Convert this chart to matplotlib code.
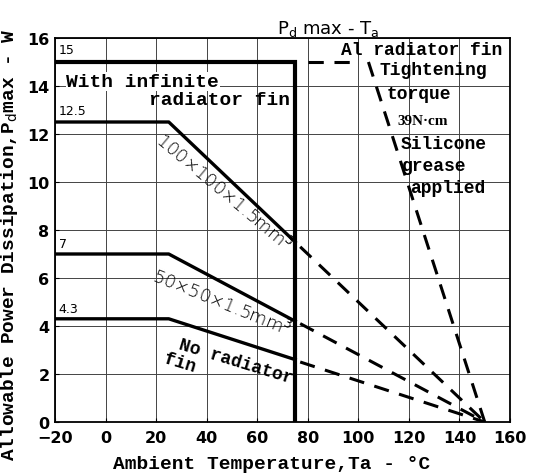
import matplotlib
matplotlib.use("Agg")
import matplotlib.pyplot as plt

# solid derating curves (ambient temperature in C, power in W)
inf_temp = [-20, 75, 75]
inf_power = [15, 15, 0]
curve_temp = [-20, 25, 75]
fin100_power = [12.5, 12.5, 7.5]
fin50_power = [7, 7, 4.2]
nofin_power = [4.3, 4.3, 2.6]

# dashed extrapolations with Al radiator fin
al_flat_temp = [80, 100]
al_flat_power = [15, 15]
al_slope_temp = [104, 150]
al_slope_power = [15, 0]
ext_temp = [77, 150]
fin100_ext = [7.3, 0]
fin50_ext = [4.1, 0]
nofin_ext = [2.5, 0]

xticks = [-20, 0, 20, 40, 60, 80, 100, 120, 140, 160]
yticks = [0, 2, 4, 6, 8, 10, 12, 14, 16]

MONO = "Liberation Mono"

fig = plt.figure(figsize=(5.41, 4.77), dpi=100)
ax = fig.add_axes([55 / 541, 54 / 477, 455 / 541, 384 / 477])
ax.set_xlim(-20, 160)
ax.set_ylim(0, 16)
ax.set_xticks(xticks)
ax.set_yticks(yticks)
ax.grid(True, color="#444444", linewidth=0.7)
ax.tick_params(axis="x", direction="in", length=3, width=0.8, pad=6)
ax.tick_params(axis="y", direction="in", length=3, width=0.8, pad=4)
for lab in ax.get_xticklabels() + ax.get_yticklabels():
    lab.set_fontweight("bold")
    lab.set_fontsize(11.5)
    lab.set_family("DejaVu Sans")
for s in ax.spines.values():
    s.set_linewidth(1.3)

ax.plot(inf_temp, inf_power, color="black", lw=3, solid_joinstyle="miter", zorder=3)
for p in (fin100_power, fin50_power, nofin_power):
    ax.plot(curve_temp, p, color="black", lw=2.4, zorder=3)

dash = dict(color="black", lw=2.2, dashes=(5, 3.5), zorder=3)
ax.plot(al_flat_temp, al_flat_power, **dash)
ax.plot(al_slope_temp, al_slope_power, **dash)
for p in (fin100_ext, fin50_ext, nofin_ext):
    ax.plot(ext_temp, p, **dash)

# value labels on the left
for v, y in [("15", 15.25), ("12.5", 12.7), ("7", 7.15), ("4.3", 4.45)]:
    ax.text(-18.5, y, v, fontsize=9, va="bottom", ha="left")

bbox = dict(facecolor="white", edgecolor="none", pad=0.5)
ax.text(-15.5, 14.0, "With infinite", family=MONO, fontsize=14, va="baseline",
        fontweight="bold", bbox=bbox, zorder=4)
ax.text(73, 13.25, "radiator fin", family=MONO, fontsize=14, va="baseline",
        ha="right", fontweight="bold", zorder=4)

ax.text(46.5, 9.6, "100×100×1.5mm$^3$", fontsize=13, rotation=-40,
        ha="center", va="center", fontweight="light", zorder=4)
ax.text(46, 5.0, "50×50×1.5mm$^3$", fontsize=13, rotation=-22,
        ha="center", va="center", fontweight="light", zorder=4)
ax.text(51.5, 2.55, "No radiator", family=MONO, fontsize=13, rotation=-17,
        ha="center", va="center", fontweight="bold", zorder=4)
ax.text(29.5, 2.5, "fin", family=MONO, fontsize=13, rotation=-17,
        ha="center", va="center", fontweight="bold", zorder=4)

# Al radiator fin annotation
ax.text(157, 15.35, "Al radiator fin", family=MONO, fontsize=13, ha="right",
        va="baseline", fontweight="bold", zorder=4)
for x, y, s, fam, fs in [(108.5, 14.5, "Tightening", MONO, 13),
                         (111, 13.5, "torque", MONO, 13),
                         (115.5, 12.4, "39N·cm", "Liberation Serif", 11),
                         (116.7, 11.4, "Silicone", MONO, 13),
                         (117.3, 10.5, "grease", MONO, 13),
                         (120.5, 9.6, "applied", MONO, 13)]:
    ax.text(x, y, s, family=fam, fontsize=fs, va="baseline", ha="left",
            fontweight="bold", zorder=4)

ax.set_xlabel("Ambient Temperature,Ta - °C", family=MONO, fontsize=14,
              fontweight="bold", labelpad=1)
ax.xaxis.set_label_coords(0.477, -0.085)
ax.set_ylabel("Allowable Power Dissipation,P$_\\mathrm{d}$max - W", family=MONO,
              fontsize=14, fontweight="bold")
ax.yaxis.set_label_coords(-0.078, 0.465)
ax.set_title("P$_\\mathrm{d}$ max - T$_\\mathrm{a}$", fontsize=13, x=0.6, pad=3)

fig.savefig("out.png", dpi=100)
